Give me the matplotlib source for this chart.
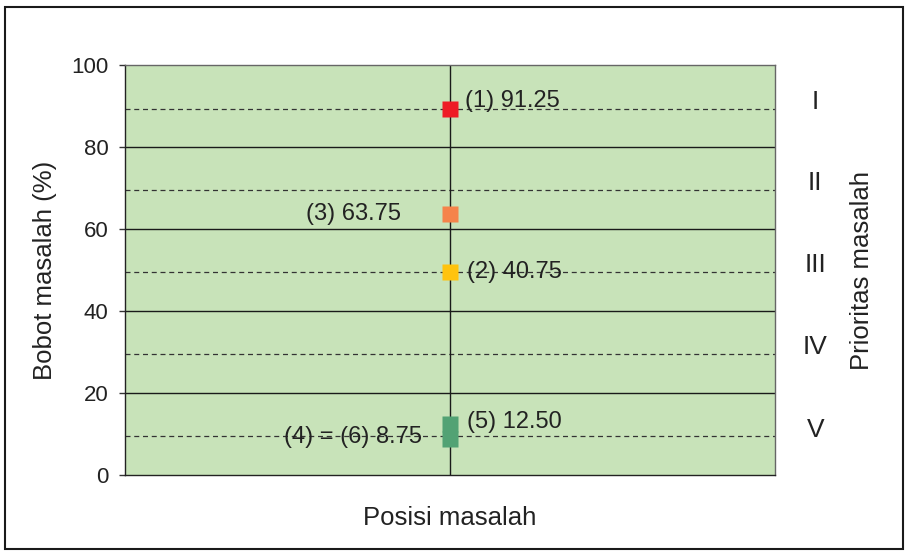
import matplotlib
matplotlib.use("Agg")
import matplotlib.pyplot as plt
from matplotlib.patches import Rectangle

plt.rcParams["font.family"] = ["Liberation Sans", "DejaVu Sans"]

# markers as they sit on the chart (x = single position column)
labels = ["(1) 91.25", "(3) 63.75", "(2) 40.75", "(5) 12.50", "(4) = (6) 8.75"]
yvals = [89.3, 63.75, 49.5, 12.5, 8.75]
colors = ["#EE1C25", "#F5834A", "#FFC30E", "#52A274", "#52A274"]
label_dx = [11, -35, 12, 12, -20]  # offset points
label_dy = [6, 0, 0, 1, 1.5]

priority_lines = [89.3, 69.5, 49.5, 29.5, 9.4]
priority_names = ["I", "II", "III", "IV", "V"]
yticks = [0, 20, 40, 60, 80, 100]

fig = plt.figure(figsize=(9.08, 5.53), dpi=100)
ax = fig.add_axes([125 / 908, 78 / 553, 650 / 908, 410 / 553])
ax.set_facecolor("#C8E3B9")
ax.set_xlim(0, 2)
ax.set_ylim(0, 100)

for y in [20, 40, 60, 80]:
    ax.axhline(y, color="#1a1a1a", lw=1.0, zorder=1)
for y in priority_lines:
    ax.axhline(y, color="#333333", lw=0.9, ls=(0, (4, 3)), zorder=1)
ax.axvline(1, color="#1a1a1a", lw=1.0, zorder=1)

for y, c in zip(yvals, colors):
    ax.plot(1, y, "s", ms=11, color=c, mec="none", zorder=3)

for lab, y, dx, dy in zip(labels, yvals, label_dx, label_dy):
    ax.annotate(lab, (1, y), textcoords="offset points", xytext=(dx, dy),
                ha="left" if dx > 0 else "right", va="center",
                fontsize=17, color="#222222", zorder=4)

for y, n in zip(priority_lines, priority_names):
    ax.annotate(n, (1.0, y), xycoords=("axes fraction", "data"),
                textcoords="offset points", xytext=(29, 5),
                ha="center", va="center", fontsize=19, color="#222222")

ax.set_yticks(yticks)
ax.set_yticklabels([str(t) for t in yticks], fontsize=16, color="#222222")
ax.set_xticks([])
ax.tick_params(axis="y", direction="out", length=4, width=1, color="#333333", pad=8)
for s in ["left", "bottom"]:
    ax.spines[s].set_color("#222222")
    ax.spines[s].set_linewidth(1.0)
for s in ["top", "right"]:
    ax.spines[s].set_color("#666666")
    ax.spines[s].set_linewidth(1.0)

ax.set_ylabel("Bobot masalah (%)", fontsize=18.5, color="#222222", labelpad=10)
ax.set_xlabel("Posisi masalah", fontsize=18.5, color="#222222", labelpad=22)
fig.text(862 / 908, 1 - 271 / 553, "Prioritas masalah", rotation=90,
         ha="center", va="center", fontsize=18.5, color="#222222")

fig.patches.append(Rectangle((5 / 908, 4 / 553), 898 / 908, 542 / 553,
                             transform=fig.transFigure, fill=False,
                             edgecolor="#1a1a1a", lw=1.5))

fig.savefig("out.png", dpi=100)
